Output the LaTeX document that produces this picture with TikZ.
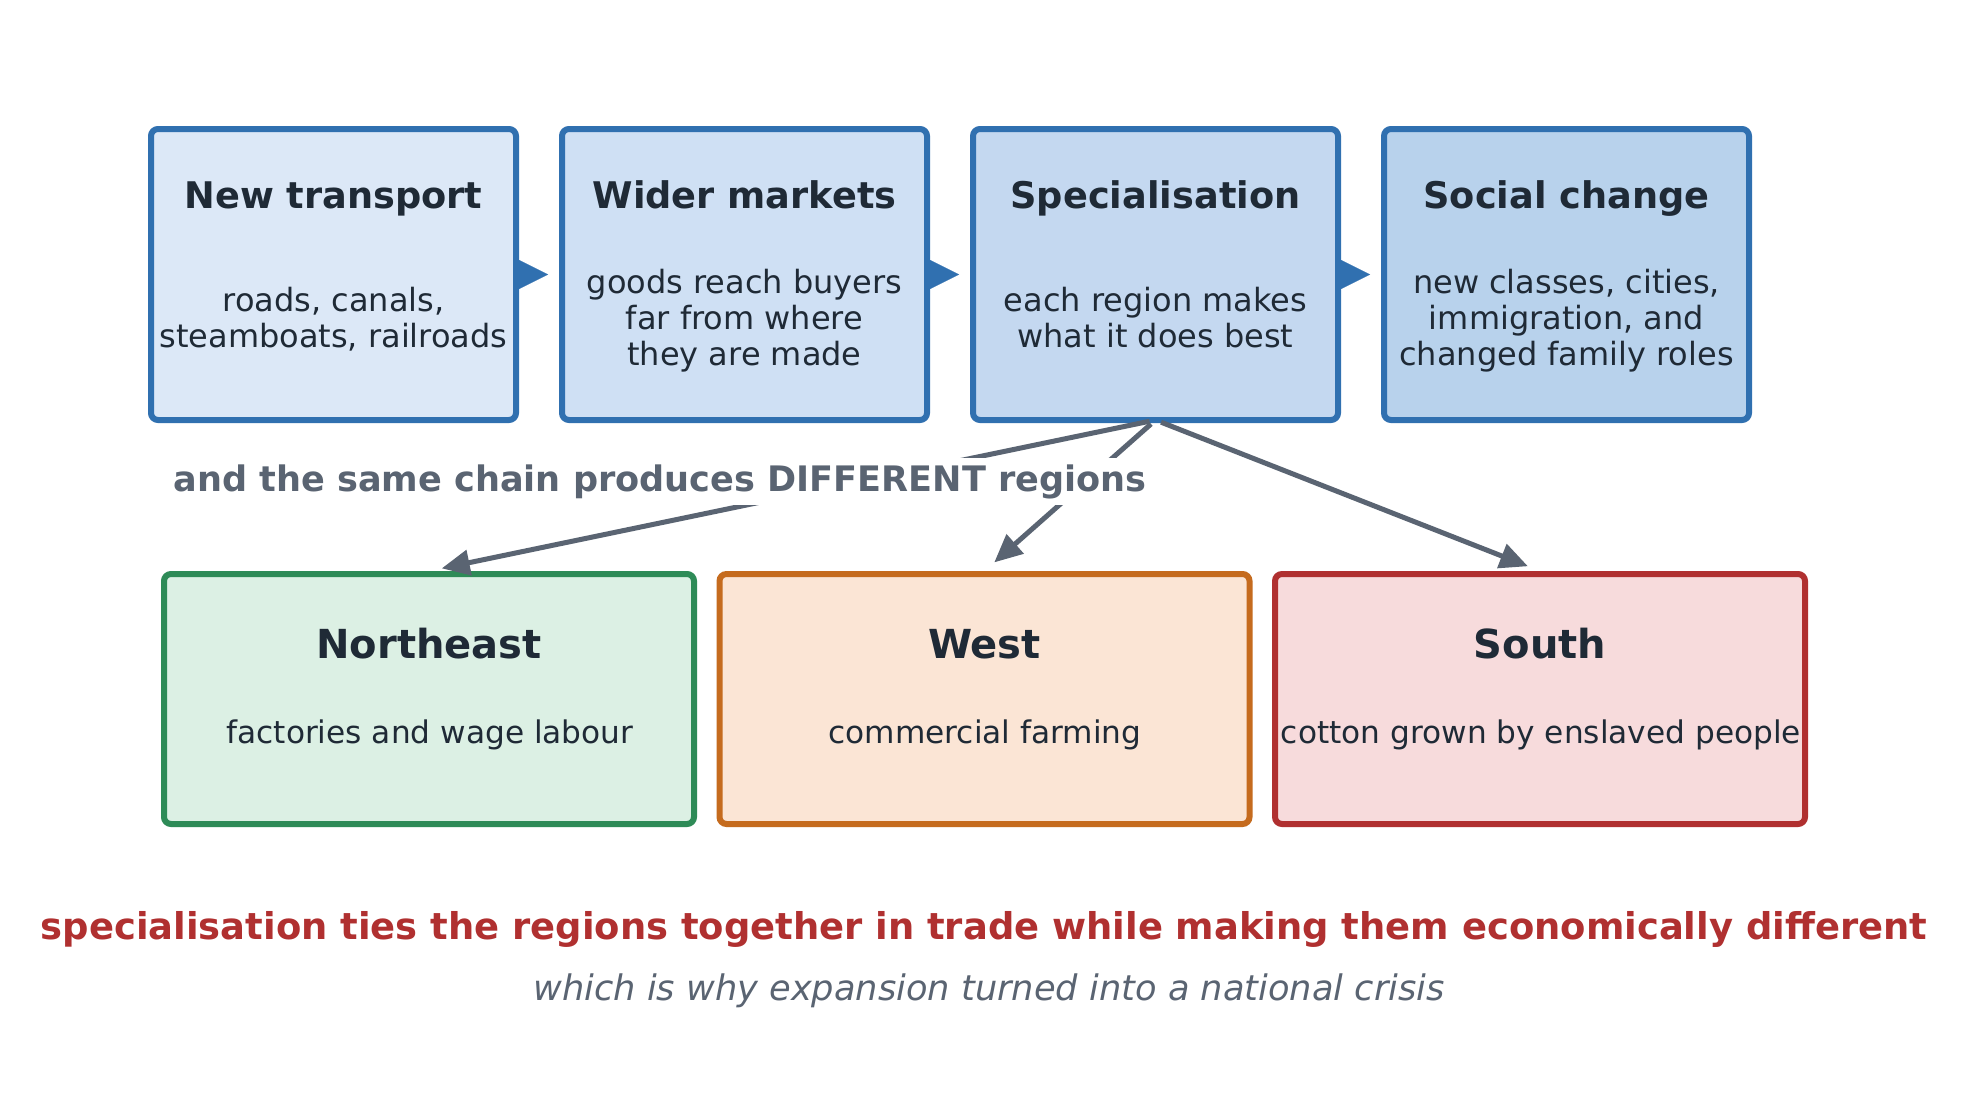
\documentclass[tikz,border=0pt]{standalone}
\usepackage{fontspec}
\setmainfont{DejaVu Sans}
\usetikzlibrary{arrows.meta}
\definecolor{bluebd}{HTML}{3070B0}
\definecolor{topA}{HTML}{DCE8F7}
\definecolor{topB}{HTML}{CFE0F4}
\definecolor{topC}{HTML}{C4D8F0}
\definecolor{topD}{HTML}{B8D2EC}
\definecolor{ink}{HTML}{1F2A36}
\definecolor{arrowgray}{HTML}{5A6472}
\definecolor{negreen}{HTML}{2E8B57}
\definecolor{nefill}{HTML}{DCF0E4}
\definecolor{worange}{HTML}{C56B1E}
\definecolor{wfill}{HTML}{FBE5D5}
\definecolor{sred}{HTML}{B03030}
\definecolor{sfill}{HTML}{F7DBDC}
\definecolor{redtxt}{HTML}{B03030}
\newcommand\bs{\rule[-0.24em]{0pt}{1em}}
\begin{document}
\begin{tikzpicture}[x=1pt,y=-1pt,
  topbox/.style={draw=bluebd, line width=6pt, rounded corners=7pt, minimum width=365pt, minimum height=291pt, inner sep=0pt},
  regbox/.style={line width=6pt, rounded corners=7pt, minimum width=530pt, minimum height=250pt, inner sep=0pt},
  ttl/.style={font=\bfseries\fontsize{36.7}{44}\selectfont, text=ink, anchor=base, inner sep=0pt},
  bodytxt/.style={font=\fontsize{32}{36}\selectfont, text=ink, align=center, anchor=center, inner sep=0pt},
  rttl/.style={font=\bfseries\fontsize{40}{48}\selectfont, text=ink, anchor=base, inner sep=0pt},
  rbody/.style={font=\fontsize{31.2}{36}\selectfont, text=ink, anchor=base, inner sep=0pt},
  chain/.style={draw=bluebd, line width=0.1pt, -{Triangle[length=29pt, width=29pt, round, fill=bluebd]}, shorten >=11pt},
  conn/.style={draw=arrowgray, line width=5pt, -{Triangle[length=28pt, width=25pt, fill=arrowgray]}, shorten >=13pt, shorten <=6pt}
]
\useasboundingbox[fill=white] (0,0) rectangle (1976,1100);

% top chain boxes
\node[topbox, fill=topA] (b1) at (333.5,274.5) {};
\node[topbox, fill=topB] (b2) at (744.5,274.5) {};
\node[topbox, fill=topC] (b3) at (1155.5,274.5) {};
\node[topbox, fill=topD] (b4) at (1566.5,274.5) {};

\node[ttl] (t1) at (333.5,208) {New transport};
\node[ttl] (t2) at (744.5,208) {Wider markets};
\node[ttl] (t3) at (1155.5,208) {Specialisation};
\node[ttl] (t4) at (1566.5,208) {Social change};

\node[bodytxt] (d1) at (333.5,321) {\bs roads, canals,\\\bs steamboats, railroads};
\node[bodytxt] (d2) at (744.5,321) {\bs goods reach buyers\\\bs far from where\\\bs they are made};
\node[bodytxt] (d3) at (1155.5,321) {\bs each region makes\\\bs what it does best};
\node[bodytxt] (d4) at (1566.5,321) {\bs new classes, cities,\\\bs immigration, and\\\bs changed family roles};

\draw[chain] (b1.east) -- (b2.west);
\draw[chain] (b2.east) -- (b3.west);
\draw[chain] (b3.east) -- (b4.west);

% region boxes
\node[regbox, draw=negreen, fill=nefill] (ne) at (429,699) {};
\node[regbox, draw=worange, fill=wfill] (we) at (984.5,699) {};
\node[regbox, draw=sred, fill=sfill] (so) at (1540,699) {};

\node[rttl] (tne) at (429,658) {Northeast};
\node[rttl] (twe) at (984.5,658) {West};
\node[rttl] (tso) at (1540,658) {South};

\node[rbody] (dne) at (430,743) {factories and wage labour};
\node[rbody] (dwe) at (985,743) {commercial farming};
\node[rbody] (dso) at (1541,743) {cotton grown by enslaved people};

% connectors
\coordinate (src) at ([yshift=3pt]b3.south);
\draw[conn] (src) -- (ne.north);
\draw[conn] (src) -- (we.north);
\draw[conn] (src) -- (so.north);

\node[font=\bfseries\fontsize{35.1}{42}\selectfont, text=arrowgray, fill=white, inner sep=6.5pt, anchor=base] (lbl) at (660,491) {and the same chain produces DIFFERENT regions};

% bottom messages
\node[font=\bfseries\fontsize{36.9}{44}\selectfont, text=redtxt, anchor=base, inner sep=0pt] (m1) at (984,939) {specialisation ties the regions together in trade while making them economically different};
\node[font=\itshape\fontsize{35.2}{42}\selectfont, text=arrowgray, anchor=base, inner sep=0pt] (m2) at (989,1000) {which is why expansion turned into a national crisis};
\end{tikzpicture}
\end{document}
